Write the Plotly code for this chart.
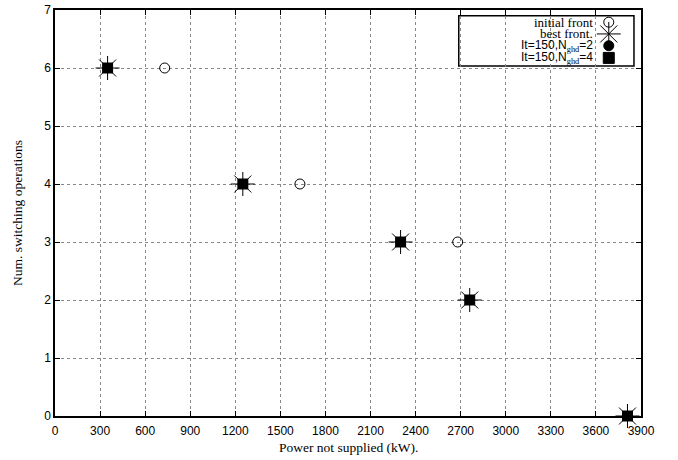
import plotly.graph_objects as go

# data
initial_x = [730, 1630, 2680]
initial_y = [6, 4, 3]
best_x = [350, 1250, 2300, 2760, 3810]
best_y = [6, 4, 3, 2, 0]
ghd2_x = [350, 1250, 2300, 2760, 3810]
ghd2_y = [6, 4, 3, 2, 0]
ghd4_x = [350, 1250, 2300, 2760, 3810]
ghd4_y = [6, 4, 3, 2, 0]
x_ticks = list(range(0, 3901, 300))
y_ticks = list(range(0, 8))

SERIF = "Liberation Serif"
SANS = "Liberation Sans"
SUB = "<sub><span style='font-family:Liberation Serif;color:black'>ghd</span></sub>"
legend_labels = ["initial front", "best front.",
                 "It=150,N" + SUB + "=2",
                 "It=150,N" + SUB + "=4"]

fig = go.Figure()
fig.add_trace(go.Scatter(x=initial_x, y=initial_y, mode="markers", cliponaxis=False,
                         marker=dict(symbol="circle-open", size=10, color="black", line=dict(width=1))))
fig.add_trace(go.Scatter(x=best_x, y=best_y, mode="markers", cliponaxis=False,
                         marker=dict(symbol="asterisk-open", size=20, color="black", line=dict(width=1))))
fig.add_trace(go.Scatter(x=ghd2_x, y=ghd2_y, mode="markers", cliponaxis=False,
                         marker=dict(symbol="circle", size=10, color="black")))
fig.add_trace(go.Scatter(x=ghd4_x, y=ghd4_y, mode="markers", cliponaxis=False,
                         marker=dict(symbol="square", size=11, color="black")))

# manual gnuplot-style legend (symbols on the right)
lx0, lx1, ly0, ly1 = 0.689, 0.988, 0.862, 0.986
fig.add_shape(type="rect", xref="paper", yref="paper", x0=lx0, x1=lx1, y0=ly0, y1=ly1,
              fillcolor="white", line=dict(color="black", width=1.5), layer="between")
rows_y = [0.970, 0.941, 0.912, 0.882]
sym_x = 0.945
text_x = 0.920
symbols = [("circle-open", 10, 1), ("asterisk-open", 20, 1), ("circle", 10, 0), ("square", 11, 0)]
for lab, yy, (sym, sz, lw) in zip(legend_labels, rows_y, symbols):
    is_sans = "It=" in lab
    fig.add_annotation(xref="paper", yref="paper", x=text_x, y=yy, text=lab, showarrow=False,
                       xanchor="right", yanchor="middle", borderpad=0,
                       font=dict(family=SANS if is_sans else SERIF, size=12 if is_sans else 13,
                                 color="black"))
    fig.add_trace(go.Scatter(x=[sym_x], y=[yy], xaxis="x2", yaxis="y2", mode="markers", cliponaxis=False,
                             marker=dict(symbol=sym, size=sz, color="black", line=dict(width=1, color="black"))))

# axis titles
fig.add_annotation(xref="paper", yref="paper", x=0.5, y=-0.0764, yanchor="middle", showarrow=False,
                   text="Power not supplied (kW).", font=dict(family=SERIF, size=13.5, color="black"))
fig.add_annotation(xref="paper", yref="paper", x=-0.065, y=0.5, xanchor="center", textangle=-90,
                   showarrow=False, text="Num. switching operations",
                   font=dict(family=SERIF, size=13.5, color="black"))

axis_common = dict(showline=True, linecolor="black", linewidth=1.5, mirror="allticks",
                   ticks="inside", ticklen=5, tickcolor="black", tickwidth=1,
                   showgrid=True, gridcolor="#888888", griddash="dot", gridwidth=1,
                   zeroline=False, automargin=False,
                   tickfont=dict(family=SANS, size=12, color="black"))

fig.update_layout(
    width=678, height=460, showlegend=False,
    plot_bgcolor="white", paper_bgcolor="white",
    margin=dict(l=55, r=37, t=10, b=44, autoexpand=False),
    xaxis=dict(range=[0, 3900], tickvals=x_ticks, ticktext=[str(v) for v in x_ticks],
               ticklabelstandoff=3, **axis_common),
    yaxis=dict(range=[0, 7], tickvals=y_ticks, ticktext=[str(v) for v in y_ticks], **axis_common),
    xaxis2=dict(range=[0, 1], overlaying="x", visible=False, fixedrange=True),
    yaxis2=dict(range=[0, 1], overlaying="y", visible=False, fixedrange=True),
)

fig.write_html("out.html", config={"displayModeBar": False},
               post_script="document.body.style.margin='0';document.body.style.padding='0';")
